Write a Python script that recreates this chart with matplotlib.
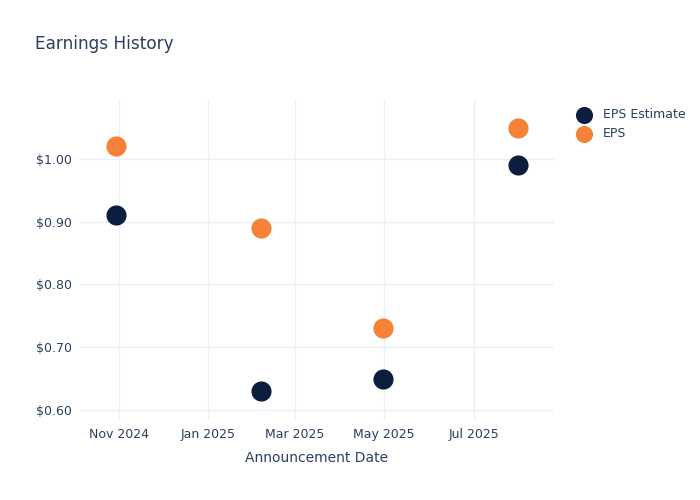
import numpy as np
import pandas as pd
import matplotlib
matplotlib.use("Agg")
import matplotlib.pyplot as plt
import matplotlib.dates as mdates
from matplotlib.ticker import FuncFormatter


dates = pd.to_datetime(["2024-10-30", "2025-02-06", "2025-04-30", "2025-07-31"])
eps_estimate = [0.91, 0.63, 0.65, 0.99]
eps_actual = [1.02, 0.89, 0.73, 1.05]

navy = "#0b1e40"
orange = "#f58236"
text_col = "#2a3f5f"
grid_col = "#ebf0f8"

fig = plt.figure(figsize=(7, 5), dpi=100)
ax = fig.add_axes([80 / 700, 80 / 500, 474 / 700, 320 / 500])

ax.scatter(dates, eps_estimate, s=210, color=navy, label="EPS Estimate", zorder=3, linewidths=0)
ax.scatter(dates, eps_actual, s=210, color=orange, label="EPS", zorder=3, linewidths=0)

ax.set_xlim(pd.Timestamp("2024-10-05 10:00"), pd.Timestamp("2025-08-24 20:00"))
ax.set_ylim(0.584, 1.094)

ax.xaxis.set_major_locator(mdates.MonthLocator(bymonth=[1, 3, 5, 7, 9, 11]))
ax.xaxis.set_major_formatter(mdates.DateFormatter("%b %Y"))
ax.set_yticks([0.6, 0.7, 0.8, 0.9, 1.0])
ax.yaxis.set_major_formatter(FuncFormatter(lambda v, p: f"${v:.2f}"))

for s in ax.spines.values():
    s.set_visible(False)
ax.grid(True, color=grid_col, linewidth=1)
ax.set_axisbelow(True)
ax.tick_params(length=0, colors=text_col, labelsize=9, pad=6)

ax.set_xlabel("Announcement Date", color=text_col, fontsize=10, labelpad=7)

fig.text(35 / 700, 1 - 44 / 500, "Earnings History", color=text_col, fontsize=12.2,
         ha="left", va="center")

leg = ax.legend(loc="upper left", bbox_to_anchor=(568 / 700, 1 - 102 / 500),
                bbox_transform=fig.transFigure, frameon=False, fontsize=9,
                markerscale=0.85, handletextpad=0.7, labelspacing=0.45,
                borderpad=0, handlelength=1.6)
for t in leg.get_texts():
    t.set_color(text_col)

fig.savefig("out.png", dpi=100)
